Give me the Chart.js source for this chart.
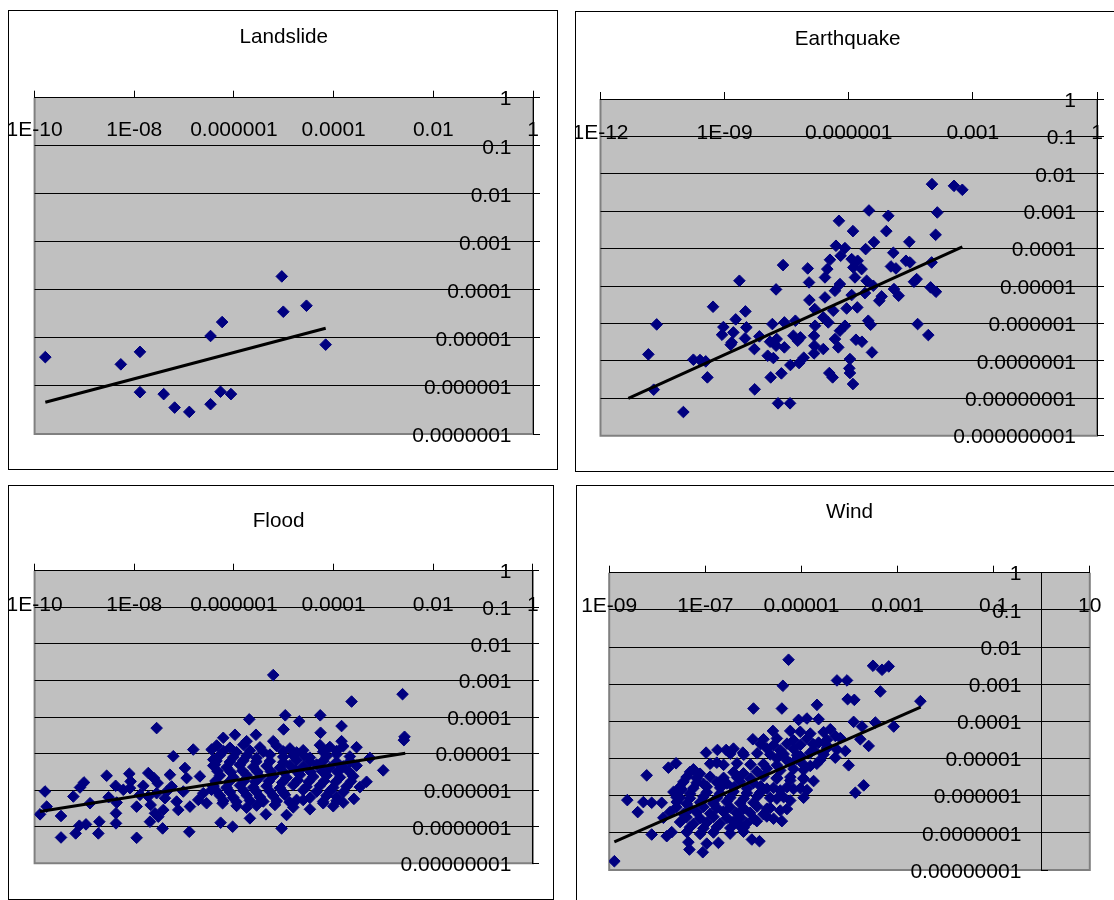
<!DOCTYPE html>
<html><head><meta charset="utf-8">
<script src="https://cdn.jsdelivr.net/npm/chart.js@4.4.1/dist/chart.umd.min.js"></script>
<style>
html,body{margin:0;padding:0;background:#fff;overflow:hidden;width:1114px;height:900px;position:relative;}
.panel{position:absolute;}
canvas{display:block;}
</style></head><body>
<div class="panel" style="left:8px;top:10px"><canvas id="cLandslide" width="550" height="460" style="width:550px;height:460px"></canvas></div>
<div class="panel" style="left:575px;top:11px"><canvas id="cEarthquake" width="545" height="461" style="width:545px;height:461px"></canvas></div>
<div class="panel" style="left:8px;top:485px"><canvas id="cFlood" width="546" height="415" style="width:546px;height:415px"></canvas></div>
<div class="panel" style="left:576px;top:485px"><canvas id="cWind" width="549" height="425" style="width:549px;height:425px"></canvas></div>
<script>
// ---------- DATA (values stored as log10 of the plotted quantities) ----------
const landslideXTicks = [1e-10, 1e-8, 1e-6, 1e-4, 1e-2, 1];
const landslideXLabels = ['1E-10', '1E-08', '0.000001', '0.0001', '0.01', '1'];
const landslideYTicks = [1e-7, 1e-6, 1e-5, 1e-4, 1e-3, 1e-2, 1e-1, 1];
const landslideYLabels = ['0.0000001', '0.000001', '0.00001', '0.0001', '0.001', '0.01', '0.1', '1'];
const landslideLogX = [-9.785, -8.27, -7.886, -7.886, -7.41, -7.19, -6.896, -6.47, -6.47, -6.27, -6.237, -6.06, -5.04, -5.01, -4.545, -4.16];
const landslideLogY = [-5.40, -5.55, -5.29, -6.13, -6.17, -6.45, -6.54, -4.96, -6.38, -6.12, -4.67, -6.17, -3.72, -4.455, -4.33, -5.14];
const landslideTrendLogX = [-9.785, -4.16];
const landslideTrendLogY = [-6.34, -4.80];

const earthquakeXTicks = [1e-12, 1e-9, 1e-6, 1e-3, 1];
const earthquakeXLabels = ['1E-12', '1E-09', '0.000001', '0.001', '1'];
const earthquakeYTicks = [1e-9, 1e-8, 1e-7, 1e-6, 1e-5, 1e-4, 1e-3, 1e-2, 1e-1, 1];
const earthquakeYLabels = ['0.000000001', '0.00000001', '0.0000001', '0.000001', '0.00001', '0.0001', '0.001', '0.01', '0.1', '1'];
const earthquakeLogX = [
  -7.588, -6.992, -6.959, -8.643, -7.757, -9.280, -8.498, -10.642, -8.732, -9.030,
  -8.474, -8.789, -9.063, -7.846, -7.556, -7.290, -8.160, -8.507, -8.829, -8.853,
  -8.281, -7.902, -7.741, -7.757, -7.556, -7.338, -7.169, -7.233, -10.843, -9.755,
  -9.594, -9.457, -7.959, -7.822, -9.417, -7.628, -7.886, -7.411, -7.201, -7.088,
  -10.714, -8.273, -7.709, -7.419, -9.997, -6.951, -6.822, -6.814, -6.838, -6.830, -6.838,
  -3.988, -3.457, -3.255, -5.511, -5.044, -3.860, -6.237, -5.898, -5.092, -3.900,
  -5.391, -4.536, -6.309, -6.092, -5.592, -4.923, -6.196, -6.454, -5.930, -5.785,
  -4.617, -4.520, -4.980, -4.859, -5.890, -5.689, -6.519, -3.997, -6.575, -5.850,
  -6.213, -5.568, -5.407, -4.359, -4.424, -4.021, -3.892, -6.333, -6.575, -5.930,
  -5.608, -5.205, -5.262, -4.907, -4.794, -6.051, -5.794, -6.374, -6.615, -6.495,
  -5.528, -5.471, -6.092, -6.213, -4.335, -4.077, -6.333, -5.826, -5.681, -6.615,
  -6.253, -5.439, -5.971, -5.987, -5.971, -6.470, -6.390, -5.898
];
const earthquakeLogY = [
  -4.440, -4.529, -4.903, -4.858, -5.090, -5.553, -5.678, -6.025, -5.891, -6.096,
  -6.105, -6.239, -6.301, -6.016, -5.972, -5.927, -6.345, -6.399, -6.506, -6.568,
  -6.684, -6.488, -6.417, -6.595, -6.639, -6.328, -6.372, -6.461, -6.826, -6.969,
  -6.978, -7.013, -6.862, -6.924, -7.441, -7.334, -7.441, -7.111, -7.058, -6.915,
  -7.770, -7.761, -8.135, -8.135, -8.367, -5.375, -5.615, -6.061, -6.328, -6.595, -6.800,
  -2.276, -2.321, -2.427, -2.980, -3.122, -3.033, -3.256, -3.532, -3.532, -3.630,
  -3.825, -3.817, -3.923, -3.986, -4.012, -4.110, -4.191, -4.297, -4.280, -4.324,
  -4.324, -4.369, -4.476, -4.529, -4.502, -4.547, -4.547, -4.369, -4.769, -4.769,
  -4.947, -4.858, -4.992, -4.814, -4.885, -5.036, -5.152, -5.126, -5.304, -5.241,
  -5.188, -5.277, -5.393, -5.081, -5.259, -5.598, -5.571, -5.660, -5.838, -5.972,
  -5.927, -6.034, -6.061, -6.194, -6.016, -6.310, -6.417, -6.435, -6.488, -6.684,
  -6.639, -6.773, -6.951, -7.200, -7.325, -7.325, -7.441, -7.619
];
const earthquakeTrendLogX = [-11.327, -3.255];
const earthquakeTrendLogY = [-8.002, -3.950];

const floodXTicks = [1e-10, 1e-8, 1e-6, 1e-4, 1e-2, 1];
const floodXLabels = ['1E-10', '1E-08', '0.000001', '0.0001', '0.01', '1'];
const floodYTicks = [1e-8, 1e-7, 1e-6, 1e-5, 1e-4, 1e-3, 1e-2, 1e-1, 1];
const floodYLabels = ['0.00000001', '0.0000001', '0.000001', '0.00001', '0.0001', '0.001', '0.01', '0.1', '1'];
const floodLogX = [
  -9.891, -9.791, -9.758, -9.470, -9.470, -9.223, -9.176, -9.102, -9.089, -9.009,
  -8.969, -8.888, -8.721, -8.701, -8.554, -8.514, -8.374, -8.367, -8.353, -8.367,
  -8.099, -8.086, -8.073, -7.952, -7.952, -7.819, -7.885, -7.718, -7.671, -7.605,
  -7.551, -7.531, -7.551, -7.584, -7.685, -7.518, -7.431, -7.417, -7.384, -7.284,
  -7.217, -7.250, -7.116, -7.150, -6.983, -6.949, -6.882, -6.896, -6.816, -6.682,
  -6.715, -6.615, -6.548, -6.448, -6.414, -6.414, -7.016, -7.350, -7.718, -8.220,
  -5.211, -2.616, -3.639, -5.692, -4.970, -4.689, -4.268, -3.840, -5.003, -5.979,
  -6.214, -5.558, -5.745, -5.211, -4.261, -2.576, -2.589, -3.840, -3.539, -3.271,
  -3.004, -4.595, -3.338, -3.472, -3.592, -3.806, -4.208, -4.475, -4.943, -5.358,
  -5.679, -6.267, -6.026, -5.043, -6.227, -5.177, -4.976, -4.742, -6.381, -6.448,
  -6.347, -6.080, -5.812, -5.478, -5.144, -4.876, -4.274, -4.074, -3.806,
  -6.280, -6.013, -5.745, -5.545, -5.277, -5.010, -4.809, -4.475, -4.141, -3.940, -3.673,
  -6.414, -6.147, -5.879, -5.612, -5.344, -5.077, -4.876, -4.609, -4.341, -4.074, -3.806, -3.539,
  -6.280, -6.013, -5.745, -5.478, -5.211, -4.943, -4.676, -4.408, -4.141, -3.873, -3.606,
  -6.414, -6.147, -5.879, -5.612, -5.344, -5.077, -4.809, -4.542, -4.274, -4.007, -3.739,
  -6.280, -6.013, -5.745, -5.478, -5.211, -4.475, -4.141, -3.940,
  -5.946, -5.745, -5.545, -4.809, -4.007,
  -6.21, -5.95, -5.68, -5.41, -5.01, -4.74, -4.61, -4.21, -3.94,
  -6.35, -6.08, -5.81, -5.55, -5.28, -5.01, -4.74, -4.48, -4.21, -3.94, -3.67,
  -6.33, -6.06, -5.83, -5.53, -5.26, -4.99, -4.76, -4.46, -4.23, -3.92, -3.69,
  -6.37, -6.10, -5.79, -5.57, -5.30, -5.03, -4.72, -4.50, -4.19, -3.96, -3.65,
  -6.35, -6.08, -5.81, -5.55, -5.28, -5.01, -4.61, -4.34, -4.07, -3.80,
  -6.21, -5.95, -5.68, -5.41, -5.14, -4.88, -4.61, -4.21, -3.94
];
const floodLogY = [
  -6.661, -6.037, -6.450, -6.706, -7.294, -6.174, -7.183, -6.972, -5.927, -5.789,
  -6.936, -6.358, -7.183, -6.862, -5.606, -6.193, -5.881, -6.633, -6.339, -6.908,
  -5.550, -5.945, -5.761, -6.450, -7.303, -5.881, -6.128, -5.532, -6.404, -5.670,
  -4.303, -5.807, -6.083, -6.633, -6.862, -6.725, -7.046, -6.541, -6.220, -5.578,
  -5.073, -5.899, -6.541, -6.312, -5.394, -5.670, -6.450, -7.138, -4.890, -5.624,
  -6.266, -6.083, -6.358, -4.890, -5.165, -5.899, -6.037, -6.037, -6.174, -5.991,
  -2.853, -3.376, -3.578, -4.064, -3.954, -4.119, -3.954, -4.248, -4.339, -4.486,
  -4.569, -4.486, -4.661, -4.661, -4.431, -4.541, -4.633, -4.661, -4.826, -5.119,
  -5.459, -5.055, -5.771, -5.917, -6.239, -6.339, -6.358, -6.523, -6.679, -6.661,
  -6.771, -6.890, -7.000, -7.046, -6.358, -6.404, -6.128, -6.266, -5.303, -5.991,
  -4.78, -4.84, -4.76, -4.83, -4.79, -4.86, -4.77, -4.82, -4.80,
  -5.04, -5.10, -5.06, -5.12, -5.03, -5.09, -5.05, -5.11, -5.07, -5.02, -5.08,
  -5.33, -5.38, -5.31, -5.37, -5.34, -5.39, -5.32, -5.36, -5.30, -5.38, -5.35, -5.33,
  -5.60, -5.65, -5.59, -5.64, -5.61, -5.66, -5.58, -5.63, -5.60, -5.65, -5.62,
  -5.88, -5.93, -5.87, -5.92, -5.89, -5.94, -5.86, -5.91, -5.88, -5.93, -5.90,
  -6.15, -6.20, -6.14, -6.19, -6.16, -6.21, -6.15, -6.18,
  -6.43, -6.48, -6.42, -6.47, -6.44,
  -4.93, -4.96, -4.92, -4.95, -4.94, -4.97, -4.91, -4.95, -4.93,
  -5.20, -5.23, -5.19, -5.22, -5.21, -5.24, -5.18, -5.22, -5.20, -5.23, -5.21,
  -5.48, -5.51, -5.47, -5.50, -5.49, -5.52, -5.46, -5.50, -5.48, -5.51, -5.49,
  -5.75, -5.78, -5.74, -5.77, -5.76, -5.79, -5.73, -5.77, -5.75, -5.78, -5.76,
  -6.02, -6.05, -6.01, -6.04, -6.03, -6.06, -6.00, -6.04, -6.02, -6.05,
  -6.29, -6.32, -6.28, -6.31, -6.30, -6.33, -6.27, -6.31, -6.29
];
const floodTrendLogX = [-9.892, -2.562];
const floodTrendLogY = [-6.585, -4.989];

const windXTicks = [1e-9, 1e-7, 1e-5, 1e-3, 1e-1, 10];
const windXLabels = ['1E-09', '1E-07', '0.00001', '0.001', '0.1', '10'];
const windYTicks = [1e-8, 1e-7, 1e-6, 1e-5, 1e-4, 1e-3, 1e-2, 1e-1, 1];
const windYLabels = ['0.00000001', '0.0000001', '0.000001', '0.00001', '0.0001', '0.001', '0.01', '0.1', '1'];
const windLogX = [
  -8.893, -5.998, -8.623, -8.407, -8.220, -8.289, -8.116, -8.116, -7.907, -7.768,
  -7.609, -7.803, -7.699, -7.331, -7.053, -6.984, -6.748, -6.567, -6.414, -6.220,
  -6.011, -5.789, -6.761, -7.491, -7.873, -7.525, -7.248, -7.178, -6.727, -6.032, -5.873, -6.275, -5.928,
  -7.317, -7.109, -6.414, -6.206, -5.928,
  -7.456, -7.039, -6.761, -6.553, -6.275, -5.998,
  -7.664, -7.317, -6.970, -6.692, -6.414, -6.136, -5.859,
  -7.595, -7.386, -7.109, -6.831, -6.553, -6.275, -5.998,
  -7.734, -7.456, -7.178, -6.900, -6.623, -6.345, -6.067, -5.789,
  -7.525, -7.248, -6.970, -6.692, -6.414, -6.136,
  -7.386, -7.109, -6.831, -6.484, -6.206,
  -7.352, -6.970,
  -5.268, -5.386, -5.407, -4.261, -4.052, -3.511, -3.323, -3.184, -3.358, -4.039,
  -3.900, -4.677, -2.525, -5.059, -4.886, -4.643, -5.594, -5.233, -3.914, -3.740,
  -3.462, -3.080, -4.400, -4.296, -3.775, -3.601, -4.087, -4.018, -4.296, -3.879,
  -3.705, -4.747, -4.955, -5.407, -5.025, -4.816, -4.643,
  -5.025, -4.816, -4.539,
  -5.511, -5.164, -4.886, -4.469, -4.191,
  -5.719, -5.441, -5.164, -4.747, -4.469, -4.261,
  -5.511, -5.302, -5.094, -4.608,
  -5.719, -5.441, -5.164, -4.955,
  -5.511, -5.233, -4.955,
  -5.719, -5.441, -5.164, -4.886,
  -5.511, -5.233,
  -5.719, -5.441, -5.302,
  -5.580,
  -5.85, -5.58, -5.30, -5.02, -4.75, -4.47,
  -6.48, -6.20, -5.92, -5.65, -5.37, -5.09, -4.82, -4.54,
  -6.90, -6.62, -6.34, -6.06, -5.79, -5.51, -5.23, -4.96, -4.68,
  -7.39, -7.18, -6.90, -6.62, -6.34, -6.06, -5.79, -5.51, -5.23, -4.96,
  -7.53, -7.25, -6.97, -6.69, -6.41, -6.13, -5.85, -5.58, -5.30, -5.02,
  -7.60, -7.32, -7.04, -6.76, -6.48, -6.20, -5.92, -5.65, -5.37,
  -7.60, -7.32, -7.04, -6.76, -6.48, -6.20, -5.92, -5.65,
  -7.39, -7.11, -6.83, -6.55, -6.27, -5.99, -5.72,
  -7.32, -7.04, -6.76, -6.48, -6.20
];
const windLogY = [
  -7.764, -3.655, -6.119, -6.442, -5.453, -6.173, -6.191, -7.045, -6.191, -5.246,
  -5.129, -7.090, -6.982, -7.450, -7.522, -4.842, -4.770, -4.770, -4.734, -4.842,
  -4.482, -4.482, -5.112, -5.831, -6.595, -6.056, -5.291, -5.651, -7.270, -7.180, -7.225, -6.820, -6.685,
  -5.36, -5.41, -5.37, -5.40, -5.35,
  -5.63, -5.68, -5.64, -5.67, -5.62, -5.66,
  -5.90, -5.95, -5.91, -5.94, -5.89, -5.93, -5.92,
  -6.17, -6.22, -6.18, -6.21, -6.16, -6.20, -6.19,
  -6.44, -6.49, -6.45, -6.48, -6.43, -6.47, -6.46, -6.50,
  -6.71, -6.76, -6.72, -6.75, -6.70, -6.74,
  -6.98, -7.03, -6.99, -7.02, -6.97,
  -7.25, -7.29,
  -2.342, -3.043, -3.655, -2.899, -2.899, -2.504, -2.612, -2.522, -3.196, -3.403,
  -3.421, -3.556, -3.457, -3.960, -3.924, -3.942, -4.257, -4.257, -4.014, -4.140,
  -4.032, -4.140, -4.212, -4.392, -4.482, -4.662, -4.797, -5.183, -4.977, -5.921,
  -5.723, -5.606, -6.056, -6.685, -4.932, -5.201, -4.572,
  -4.28, -4.33, -4.29,
  -4.46, -4.51, -4.47, -4.50, -4.45,
  -4.73, -4.78, -4.74, -4.77, -4.72, -4.76,
  -5.00, -5.05, -5.01, -5.04,
  -5.27, -5.32, -5.28, -5.31,
  -5.54, -5.59, -5.55,
  -5.81, -5.86, -5.82, -5.85,
  -6.08, -6.13,
  -6.35, -6.40, -6.36,
  -6.62,
  -4.61, -4.64, -4.60, -4.63, -4.62, -4.65,
  -4.87, -4.90, -4.86, -4.89, -4.88, -4.91, -4.85, -4.89,
  -5.14, -5.17, -5.13, -5.16, -5.15, -5.18, -5.12, -5.16, -5.14,
  -5.50, -5.53, -5.49, -5.52, -5.51, -5.54, -5.48, -5.52, -5.50, -5.53,
  -5.77, -5.80, -5.76, -5.79, -5.78, -5.81, -5.75, -5.79, -5.77, -5.80,
  -6.04, -6.07, -6.03, -6.06, -6.05, -6.08, -6.02, -6.06, -6.04,
  -6.31, -6.34, -6.30, -6.33, -6.32, -6.35, -6.29, -6.33,
  -6.58, -6.61, -6.57, -6.60, -6.59, -6.62, -6.56,
  -6.85, -6.88, -6.84, -6.87, -6.86
];
const windTrendLogX = [-8.893, -2.52];
const windTrendLogY = [-7.243, -3.62];

// ---------- LAYOUT (canvas-local pixel geometry, separate from data) ----------
const layouts = {
  landslide:  {W: 550, H: 460, left: 26.6, top: 87.7, right: 525,   bottom: 424,   titleX: 276,   titleY: 27.3, xPad: 19.7, yPad: 21.5},
  earthquake: {W: 545, H: 461, left: 25.5, top: 88,   right: 522,   bottom: 424.7, titleX: 272.6, titleY: 28.3, xPad: 21.7, yPad: 21},
  flood:      {W: 546, H: 415, left: 26.6, top: 85.7, right: 524.9, bottom: 378.3, titleX: 270.6, titleY: 36.7, xPad: 21.7, yPad: 21.5},
  wind:       {W: 549, H: 425, left: 33.2, top: 87.7, right: 513.8, bottom: 385,   titleX: 274.4, titleY: 27.3, xPad: 20.7, yPad: 20.4}
};

const FONT = "'Liberation Sans', Arial, Helvetica, sans-serif";
const TICK_SIZE = 21;
const TITLE_SIZE = 20.7;
const MARKER = '#000080';
Chart.defaults.font.family = FONT;
Chart.defaults.color = '#000';

const excelPlot = {
  id: 'excelPlot',
  beforeDraw(chart, args, opts) {
    const {ctx, chartArea: a} = chart;
    // y labels sit to the left of the axis crossing (Excel style)
    const ys = chart.scales.y;
    const items = ys.getLabelItems();
    if (!items._shifted) {
      items.forEach(it => { it.options.translation[0] -= opts.labelShift; });
      items._shifted = true;
    }
    ctx.save();
    ctx.fillStyle = '#C0C0C0';
    ctx.fillRect(a.left, a.top, a.right - a.left, a.bottom - a.top);
    ctx.strokeStyle = '#808080';
    ctx.lineWidth = 2;
    ctx.beginPath();
    ctx.moveTo(a.left, a.top);
    ctx.lineTo(a.left, a.bottom);
    ctx.lineTo(a.right, a.bottom);
    ctx.lineTo(a.right, a.top);
    ctx.stroke();
    ctx.restore();
  },
  afterDraw(chart) {
    const {ctx, width, height} = chart;
    ctx.save();
    ctx.strokeStyle = '#000';
    ctx.lineWidth = 1;
    ctx.strokeRect(0.5, 0.5, width - 1, height - 1);
    ctx.restore();
  }
};

function toPoints(lx, ly) {
  return lx.map((v, i) => ({x: Math.pow(10, v), y: Math.pow(10, ly[i])}));
}

function makePanel(id, title, xTicks, xLabels, yTicks, yLabels, logX, logY, tLogX, tLogY, L) {
  const yMin = yTicks[0];
  const titleLH = TITLE_SIZE * 1.2;
  const padBox = Math.max(0, L.left + L.right - 2 * L.titleX);
  const xH = L.top - L.titleY - titleLH / 2;
  new Chart(document.getElementById(id), {
    type: 'scatter',
    data: {
      datasets: [
        {
          label: 'trend', data: toPoints(tLogX, tLogY), showLine: true,
          borderColor: '#000', borderWidth: 3, pointRadius: 0, fill: false,
          xAxisID: 'x', yAxisID: 'y'
        },
        {
          label: title, data: toPoints(logX, logY), pointStyle: 'rectRot',
          pointRadius: 5.8, backgroundColor: MARKER, borderColor: MARKER, borderWidth: 1,
          xAxisID: 'x', yAxisID: 'y'
        }
      ]
    },
    options: {
      responsive: false, animation: false, events: [],
      layout: {padding: {left: L.left - padBox, right: L.W - L.right, top: 0, bottom: L.H - L.bottom}},
      plugins: {
        legend: {display: false}, tooltip: {enabled: false},
        excelPlot: {labelShift: L.yPad},
        title: {display: true, text: title, color: '#000',
          font: {size: TITLE_SIZE, weight: 'normal', family: FONT},
          padding: {top: L.titleY - titleLH / 2, bottom: 0}}
      },
      scales: {
        x: {
          type: 'logarithmic', position: 'top', bounds: 'data',
          min: xTicks[0], max: xTicks[xTicks.length - 1],
          afterBuildTicks: s => { s.ticks = xTicks.map(v => ({value: v})); },
          afterFit: s => { s.height = xH; s.paddingLeft = 0; s.paddingRight = 0; s.paddingTop = 0; s.paddingBottom = 0; },
          ticks: {callback: (v, i) => xLabels[i], mirror: true, padding: L.xPad, autoSkip: false,
            maxRotation: 0, minRotation: 0, color: '#000', font: {size: TICK_SIZE, family: FONT}},
          grid: {drawOnChartArea: false, drawTicks: true, tickLength: 7, color: '#000', lineWidth: 1},
          border: {display: true, color: '#000', width: 1}
        },
        y: {
          type: 'logarithmic', position: {x: 1}, bounds: 'data',
          min: yMin, max: yTicks[yTicks.length - 1],
          afterBuildTicks: s => { s.ticks = yTicks.map(v => ({value: v})); },
          afterFit: s => { s.width = 0; s.paddingLeft = 0; s.paddingRight = 0; s.paddingTop = 0; s.paddingBottom = 0; },
          ticks: {callback: (v, i) => yLabels[i], padding: 0, labelOffset: 2, autoSkip: false,
            color: '#000', font: {size: TICK_SIZE, family: FONT}},
          grid: {drawOnChartArea: true, drawTicks: true, tickLength: -7, lineWidth: 1, tickColor: '#000',
            color: c => (c.tick && c.tick.value === yMin) ? '#808080' : '#000'},
          border: {display: true, color: '#000', width: 1}
        },
        yPad: {
          type: 'linear', position: 'left', display: true,
          ticks: {display: false}, grid: {display: false, drawTicks: false}, border: {display: false},
          afterFit: s => { s.width = padBox; s.paddingTop = 0; s.paddingBottom = 0; s.paddingLeft = 0; s.paddingRight = 0; }
        }
      }
    },
    plugins: [excelPlot]
  });
}

makePanel('cLandslide', 'Landslide', landslideXTicks, landslideXLabels, landslideYTicks, landslideYLabels,
  landslideLogX, landslideLogY, landslideTrendLogX, landslideTrendLogY, layouts.landslide);
makePanel('cEarthquake', 'Earthquake', earthquakeXTicks, earthquakeXLabels, earthquakeYTicks, earthquakeYLabels,
  earthquakeLogX, earthquakeLogY, earthquakeTrendLogX, earthquakeTrendLogY, layouts.earthquake);
makePanel('cFlood', 'Flood', floodXTicks, floodXLabels, floodYTicks, floodYLabels,
  floodLogX, floodLogY, floodTrendLogX, floodTrendLogY, layouts.flood);
makePanel('cWind', 'Wind', windXTicks, windXLabels, windYTicks, windYLabels,
  windLogX, windLogY, windTrendLogX, windTrendLogY, layouts.wind);
</script>
</body></html>
